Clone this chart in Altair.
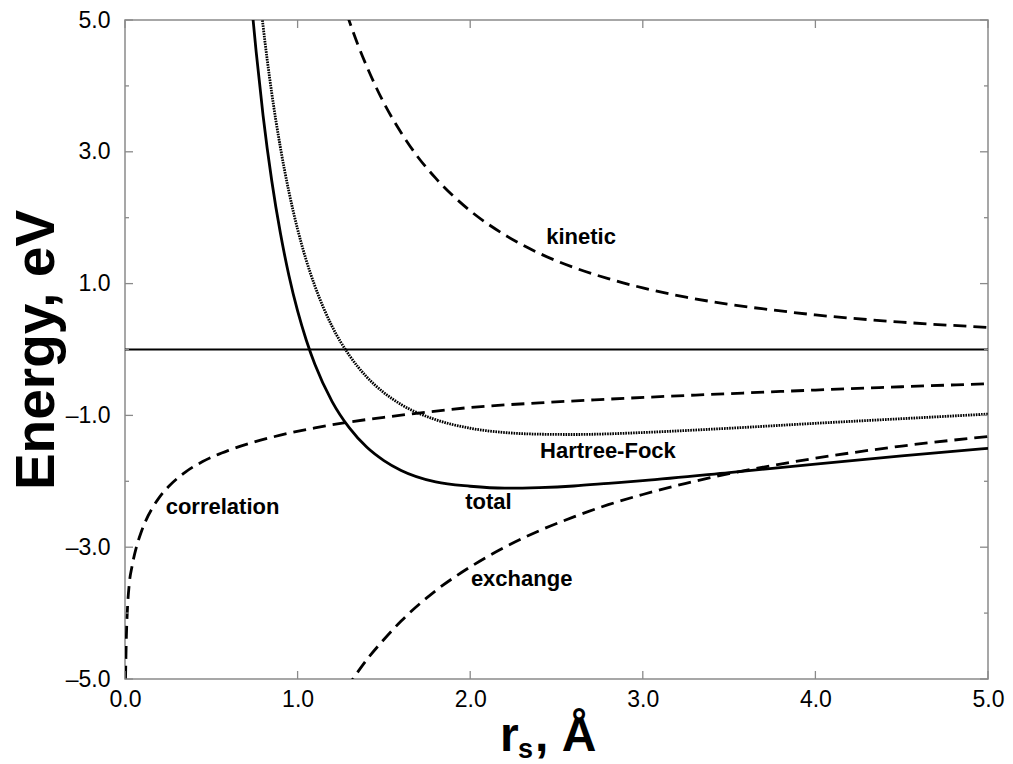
import altair as alt
import pandas as pd

# ---- data (r_s in Å, energy in eV) ----
kin_x = [1.25, 1.3, 1.35, 1.4, 1.5, 1.6, 1.7, 1.8, 2.0, 2.2, 2.4, 2.6, 2.8, 3.0, 3.25, 3.5, 3.75, 4.0, 4.5, 5.0]
kin_y = [5.39, 4.98, 4.62, 4.30, 3.74, 3.29, 2.91, 2.60, 2.105, 1.74, 1.46, 1.245, 1.075, 0.935, 0.795, 0.685, 0.60, 0.525, 0.415, 0.335]

exc_x = [1.28, 1.32, 1.4, 1.5, 1.6, 1.8, 2.0, 2.2, 2.4, 2.6, 2.8, 3.0, 3.25, 3.5, 3.75, 4.0, 4.5, 5.0]
exc_y = [-5.15, -5.0, -4.71, -4.40, -4.12, -3.66, -3.30, -3.00, -2.75, -2.54, -2.355, -2.20, -2.03, -1.885, -1.76, -1.65, -1.465, -1.32]

hf_x = [0.76, 0.78, 0.8, 0.85, 0.9, 0.95, 1.0, 1.05, 1.1, 1.2, 1.3, 1.4, 1.5, 1.6, 1.8, 2.0, 2.2, 2.4, 2.6, 2.8, 3.0, 3.5, 4.0, 4.5, 5.0]
hf_y = [5.90, 5.385, 4.91, 3.895, 3.07, 2.39, 1.825, 1.355, 0.965, 0.35, -0.09, -0.415, -0.655, -0.835, -1.065, -1.195, -1.26, -1.285, -1.29, -1.28, -1.26, -1.195, -1.12, -1.05, -0.98]

cor_x = [0.003, 0.008, 0.013, 0.025, 0.04, 0.066, 0.09, 0.12, 0.16, 0.2, 0.26, 0.35, 0.45, 0.6, 0.74, 0.9, 1.1, 1.3, 1.5, 1.7, 2.0, 2.4, 2.75, 3.1, 3.5, 4.0, 4.5, 5.0]
cor_y = [-5.0, -4.35, -4.0, -3.55, -3.3, -3.0, -2.8, -2.6, -2.4, -2.24, -2.06, -1.86, -1.70, -1.53, -1.41, -1.30, -1.19, -1.10, -1.03, -0.965, -0.88, -0.81, -0.76, -0.715, -0.67, -0.615, -0.565, -0.52]

tot_x = [0.72, 0.74, 0.76, 0.8, 0.85, 0.9, 0.95, 1.0, 1.05, 1.1, 1.2, 1.3, 1.4, 1.5, 1.6, 1.8, 2.0, 2.2, 2.4, 2.6, 2.8, 3.0, 3.5, 4.0, 4.5, 5.0]
tot_y = [5.67, 5.06, 4.515, 3.55, 2.565, 1.77, 1.12, 0.585, 0.145, -0.225, -0.79, -1.19, -1.48, -1.685, -1.835, -2.01, -2.075, -2.105, -2.095, -2.071, -2.031, -1.99, -1.867, -1.738, -1.615, -1.50]

lab_text = ["kinetic", "Hartree-Fock", "total", "correlation", "exchange"]
lab_x = [2.642, 2.798, 2.106, 0.565, 2.298]
lab_y = [1.596, -1.651, -2.425, -2.50, -3.589]

x_ticks = [0, 1, 2, 3, 4, 5]
y_major = [-5, -3, -1, 1, 3, 5]
y_minor = [-4, -2, 0, 2, 4]
zero_line = [0]

x_title_parts = ["r", "s", ", Å"]
y_title = "Energy, eV"

# ---- layout / style ----
W, H = 863, 659
FONT = "Liberation Sans"
GRAY = "#8a8a8a"

xs = alt.Scale(domain=[0, 5], nice=False, zero=False)
ys = alt.Scale(domain=[-5, 5], nice=False, zero=False)

xax = alt.Axis(values=x_ticks, format=".1f", ticks=False, domain=False, grid=False,
               labelFont=FONT, labelFontSize=23, labelColor="black", labelPadding=9,
               labelFlush=False, labelOverlap=False, title=None)
yax = alt.Axis(values=y_major, ticks=False, domain=False, grid=False,
               labelExpr="replace(replace(format(datum.value, '.1f'), '\u2212', '\u2013'), '-', '\u2013')",
               labelFont=FONT, labelFontSize=23, labelColor="black", labelPadding=15,
               labelFlush=False, labelOverlap=False,
               title=y_title, titleFont=FONT, titleFontWeight="bold", titleFontSize=55,
               titleColor="black", titleAngle=270, titleX=-72, titleY=H / 2,
               titleAlign="center", titleBaseline="alphabetic")


def X():
    return alt.X("x:Q", scale=xs, axis=xax, title=None)


def Y():
    return alt.Y("y:Q", scale=ys, axis=yax, title=y_title)


def line(xv, yv, dash, width):
    df = pd.DataFrame({"x": xv, "y": yv})
    kw = dict(color="black", strokeWidth=width, clip=True, interpolate="monotone")
    if dash:
        kw["strokeDash"] = dash
    return alt.Chart(df).mark_line(**kw).encode(x=X(), y=Y(), order="x:Q")


dash = [13, 7]
kin = line(kin_x, kin_y, dash, 2.8)
exc = line(exc_x, exc_y, dash, 2.8)
cor = line(cor_x, cor_y, dash, 2.8)
hf = line(hf_x, hf_y, [1.6, 1.0], 2.8)
tot = line(tot_x, tot_y, None, 2.8)

zero = alt.Chart(pd.DataFrame({"y": zero_line})).mark_rule(color="black", strokeWidth=2).encode(y=Y())

xt = pd.DataFrame({"x": x_ticks})
ymj = pd.DataFrame({"y": y_major})
ymn = pd.DataFrame({"y": y_minor})
tick_style = dict(color=GRAY, strokeWidth=1.3)
ticks = [
    alt.Chart(xt).mark_rule(**tick_style).encode(x=X(), y=alt.value(H), y2=alt.value(H - 8)),
    alt.Chart(xt).mark_rule(**tick_style).encode(x=X(), y=alt.value(0), y2=alt.value(8)),
    alt.Chart(ymj).mark_rule(**tick_style).encode(y=Y(), x=alt.value(0), x2=alt.value(8)),
    alt.Chart(ymj).mark_rule(**tick_style).encode(y=Y(), x=alt.value(W), x2=alt.value(W - 8)),
    alt.Chart(ymn).mark_rule(**tick_style).encode(y=Y(), x=alt.value(0), x2=alt.value(4)),
    alt.Chart(ymn).mark_rule(**tick_style).encode(y=Y(), x=alt.value(W), x2=alt.value(W - 4)),
]

labels = alt.Chart(pd.DataFrame({"x": lab_x, "y": lab_y, "t": lab_text})).mark_text(
    font=FONT, fontWeight="bold", fontSize=22, color="black", align="center", baseline="alphabetic"
).encode(x=X(), y=Y(), text="t:N")

xt_r = alt.Chart(pd.DataFrame({"t": [x_title_parts[0]]})).mark_text(
    font=FONT, fontWeight="bold", fontSize=48, color="black", align="left", baseline="alphabetic"
).encode(text="t:N", x=alt.value(375), y=alt.value(731))
xt_s = alt.Chart(pd.DataFrame({"t": [x_title_parts[1]]})).mark_text(
    font=FONT, fontWeight="bold", fontSize=27, color="black", align="left", baseline="alphabetic"
).encode(text="t:N", x=alt.value(393), y=alt.value(738))
xt_a = alt.Chart(pd.DataFrame({"t": [x_title_parts[2]]})).mark_text(
    font=FONT, fontWeight="bold", fontSize=48, color="black", align="left", baseline="alphabetic"
).encode(text="t:N", x=alt.value(410), y=alt.value(731))

chart = alt.layer(
    zero, kin, exc, cor, hf, tot, *ticks, labels, xt_r, xt_s, xt_a
).properties(
    width=W, height=H,
    autosize=alt.AutoSizeParams(type="none"),
    padding={"left": 125, "top": 20, "right": 25, "bottom": 85},
    background="white",
).configure_view(stroke=GRAY, strokeWidth=1.5)

chart.save("out.html", embed_options={"renderer": "svg", "actions": False})
